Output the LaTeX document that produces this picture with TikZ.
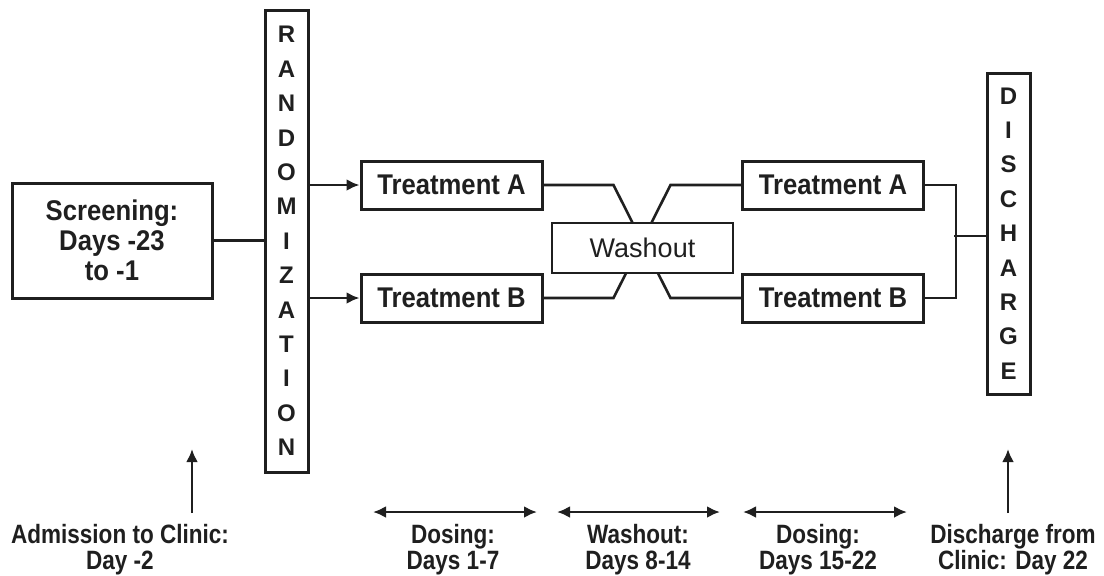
\documentclass[tikz,border=0pt]{standalone}
\usepackage{fontspec}
\setmainfont{Liberation Sans}
\newfontfamily\boxfont[FakeStretch = 0.9]{Liberation Sans}
\newfontfamily\lblfont[FakeStretch = 0.85]{Liberation Sans}
\usepackage{tikz}
\usetikzlibrary{arrows.meta,positioning}
\definecolor{ink}{gray}{0.12}

\begin{document}
\begin{tikzpicture}[x = 0.5pt, y = -0.5pt, line width = 1.3pt, color = ink,
	box/.style = {draw, line width = 1.5pt, inner sep = 0pt, align = center, font = \boxfont\bfseries\fontsize{14.25}{15}\selectfont},
	tall/.style = {draw, line width = 1.5pt, inner sep = 0pt, align = center, minimum width = 21.5pt, font = \bfseries\fontsize{12}{17.2}\selectfont},
	lbl/.style = {align = center, anchor = north, inner sep = 0pt, font = \lblfont\bfseries\fontsize{13.25}{13}\selectfont},
	arr/.style = {-{Latex[length = 6.5pt, width = 6pt]}},
	both/.style = {{Latex[length = 6.5pt, width = 6pt]}-{Latex[length = 6.5pt, width = 6pt]}}]
	\useasboundingbox (0,0) rectangle (1104,575);
	\node[box, minimum width = 100pt, minimum height = 57.5pt] (screen) at (112,240.5) {Screening:\\Days -23\\to -1};
	\node[tall, minimum height = 231pt] (rand) at (286.5,241) {R\\A\\N\\D\\O\\M\\I\\Z\\A\\T\\I\\O\\N};
	\node[tall, minimum height = 160.5pt] (disch) at (1008.5,233.5) {D\\I\\S\\C\\H\\A\\R\\G\\E};
	\node[box, minimum width = 90.5pt, minimum height = 24pt] (trtA) at (451.5,185) {Treatment A};
	\node[box, minimum width = 90.5pt, minimum height = 24pt] (trtB) at (451.5,298) {Treatment B};
	\node[box, minimum width = 90.5pt, minimum height = 24pt] (trtA2) at (833,185) {Treatment A};
	\node[box, minimum width = 90.5pt, minimum height = 24pt] (trtB2) at (833,298) {Treatment B};
	\draw (screen.east) -- (screen.east -| rand.west);
	\draw[arr] (rand.east |- trtA.west) -- (trtA.west);
	\draw[arr] (rand.east |- trtB.west) -- (trtB.west);
	% crossing behind the washout box
	\draw (trtA.east) -- ++(70,0) -- ++(57,113) -- (trtB2.west);
	\draw (trtB.east) -- ++(70,0) -- ++(57,-113) -- (trtA2.west);
	\node[draw, line width = 0.8pt, fill = white, inner sep = 0pt, minimum width = 90.5pt, minimum height = 25pt, font = \fontsize{13.5}{15}\selectfont] (wash) at (642.5,248) {Washout};
	\draw (trtA2.east) -- ++(31,0) |- (trtB2.east);
	\coordinate (join) at (954,236);
	\draw (join) -- (join -| disch.west);
	% time line
	\node[lbl] (admit) at (120,523) {Admission to Clinic:\\Day -2};
	\node[lbl] (dose1) at (453,523) {Dosing:\\Days 1-7};
	\node[lbl] (washlbl) at (638,523) {Washout:\\Days 8-14};
	\node[lbl] (dose2) at (818,523) {Dosing:\\Days 15-22};
	\node[lbl] (dischlbl) at (1013,523) {Discharge from\\Clinic: Day 22};
	\coordinate (admitTail) at (192,513);
	\coordinate (admitTip) at (192,449);
	\coordinate (dischTail) at (1008,513);
	\coordinate (dischTip) at (1008,449);
	\draw[arr] (admitTail) -- (admitTip);
	\draw[arr] (dischTail) -- (dischTip);
	\coordinate (d1a) at (373,512);
	\coordinate (d1b) at (537,512);
	\coordinate (wa) at (557,512);
	\coordinate (wb) at (720,512);
	\coordinate (d2a) at (743,512);
	\coordinate (d2b) at (907,512);
	\draw[both] (d1a) -- (d1b);
	\draw[both] (wa) -- (wb);
	\draw[both] (d2a) -- (d2b);
\end{tikzpicture}
\end{document}
